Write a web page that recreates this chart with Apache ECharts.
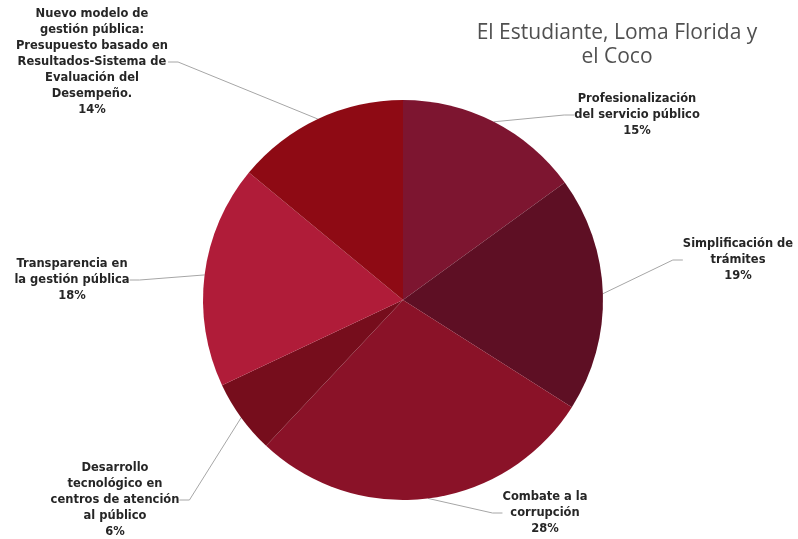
<!DOCTYPE html>
<html>
<head>
<meta charset="utf-8">
<script src="https://cdn.jsdelivr.net/npm/echarts@6/dist/echarts.min.js"></script>
<style>
html,body{margin:0;padding:0;background:#fff;}
#c{width:798px;height:539px;}
</style>
</head>
<body>
<div id="c"></div>
<script>
const categories = [
  'Profesionalización\ndel servicio público',
  'Simplificación de\ntrámites',
  'Combate a la\ncorrupción',
  'Desarrollo\ntecnológico en\ncentros de atención\nal público',
  'Transparencia en\nla gestión pública',
  'Nuevo modelo de\ngestión pública:\nPresupuesto basado en\nResultados-Sistema de\nEvaluación del\nDesempeño.'
];
const values = [15, 19, 28, 6, 18, 14];
const colors = ['#7d1530', '#5e0f24', '#8a1228', '#760d1c', '#b01c39', '#8e0a14'];
const labelPos = [[637,115],[738,260],[545,513],[115,500],[72,280],[92,62]];

const chart = echarts.init(document.getElementById('c'));
chart.setOption({
  animation: false,
  title: {
    text: 'El Estudiante, Loma Florida y\nel Coco',
    left: 612, top: 16, textAlign: 'center',
    textStyle: { fontFamily: 'Open Sans', fontSize: 21, fontWeight: 'normal', color: '#505050', lineHeight: 24 }
  },
  series: [{
    type: 'pie',
    center: [403, 300],
    radius: 200,
    startAngle: 90,
    data: categories.map((n, i) => ({ name: n, value: values[i], itemStyle: { color: colors[i] } })),
    label: {
      show: true,
      formatter: '{b}\n{d}%',
      fontFamily: 'DejaVu Sans',
      fontWeight: 'bold',
      fontSize: 11.5,
      lineHeight: 16,
      color: '#262626',
      align: 'center'
    },
    labelLine: { show: true, length: 15, length2: 10, lineStyle: { color: '#a6a6a6', width: 1 } },
    labelLayout: function (p) {
      const pos = labelPos[p.dataIndex];
      return { x: pos[0], y: pos[1], align: 'center', verticalAlign: 'middle' };
    }
  }]
});
</script>
</body>
</html>
